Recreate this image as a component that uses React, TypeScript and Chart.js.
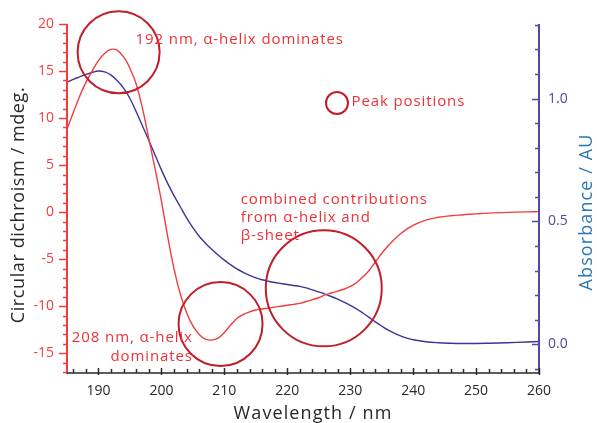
import React, { useEffect, useRef } from "react";
import { Chart, registerables } from "chart.js";

Chart.register(...registerables);

// ---- data ----
const wavelengths = [
  185, 186, 187, 188, 189, 190, 191, 192, 193, 194, 195, 196, 197, 198, 199, 200,
  201, 202, 203, 204, 205, 206, 207, 208, 209, 210, 211, 212, 213, 214, 215, 216,
  217, 218, 219, 220, 221, 222, 223, 224, 225, 226, 227, 228, 229, 230, 231, 232,
  233, 234, 235, 236, 237, 238, 239, 240, 242, 244, 246, 248, 250, 252, 255, 258, 260,
];
const cdValues = [
  8.8, 10.6, 12.3, 13.8, 15.0, 16.1, 16.9, 17.3, 17.2, 16.5, 15.3, 13.6, 11.0, 7.8, 4.6, 1.2,
  -2.6, -6.0, -8.7, -10.7, -12.1, -13.0, -13.5, -13.6, -13.4, -12.8, -12.0, -11.3, -10.9, -10.6, -10.4, -10.3,
  -10.2, -10.1, -10.0, -9.9, -9.8, -9.7, -9.5, -9.3, -9.1, -8.8, -8.6, -8.4, -8.2, -7.9, -7.5, -6.9,
  -6.2, -5.3, -4.4, -3.6, -2.9, -2.3, -1.8, -1.4, -0.85, -0.55, -0.38, -0.28, -0.18, -0.1, -0.03, 0.03, 0.05,
];
const absValues = [
  1.067, 1.078, 1.088, 1.098, 1.106, 1.112, 1.108, 1.095, 1.072, 1.042, 1.0, 0.946, 0.888, 0.83, 0.77, 0.71,
  0.655, 0.605, 0.56, 0.515, 0.475, 0.44, 0.412, 0.387, 0.364, 0.343, 0.324, 0.307, 0.293, 0.281, 0.271, 0.263,
  0.257, 0.252, 0.248, 0.244, 0.24, 0.236, 0.23, 0.222, 0.214, 0.205, 0.195, 0.184, 0.172, 0.159, 0.145, 0.128,
  0.11, 0.092, 0.075, 0.059, 0.046, 0.035, 0.026, 0.019, 0.011, 0.007, 0.005, 0.004, 0.004, 0.005, 0.007, 0.01, 0.012,
];

const xMajorTicks = [190, 200, 210, 220, 230, 240, 250, 260];
const cdMajorTicks = [-15, -10, -5, 0, 5, 10, 15, 20];
const absMajorTicks = [0.0, 0.5, 1.0];

// annotations (data coordinates: wavelength, CD)
const circleWavelengths = [193.2, 209.4, 225.8, 227.9];
const circleCd = [17.0, -11.9, -8.1, 11.6];
const noteTexts = [
  "192 nm, \u03b1-helix dominates",
  "Peak positions",
  "combined contributions",
  "from \u03b1-helix and",
  "\u03b2-sheet",
  "208 nm, \u03b1-helix",
  "dominates",
];
const noteWavelengths = [195.9, 230.2, 212.6, 212.6, 212.6, 205.0, 205.0];
const noteCd = [18.33, 11.73, 1.3, -0.6, -2.5, -13.35, -15.4];

// ---- styles ----
const RED = "rgb(240,62,62)";
const TEXT_RED = "rgb(236,50,56)";
const CIRCLE_RED = "rgb(192,30,40)";
const BLUE = "rgb(62,52,150)";
const AXIS_BLUE = "rgb(80,72,165)";
const TITLE_BLUE = "rgb(40,120,185)";
const DARK = "rgb(40,40,40)";
const FONT = "'Open Sans', sans-serif";
const circleRadii = [41, 42, 58, 11];
const noteAlign: CanvasTextAlign[] = ["left", "left", "left", "left", "left", "right", "right"];

const overlay = {
  id: "overlay",
  afterDraw(chart: any) {
    const ctx = chart.ctx as any;
    const { left, right, top, bottom } = chart.chartArea;
    const x = chart.scales.x;
    const y = chart.scales.y;
    const y1 = chart.scales.y1;
    ctx.save();

    // left axis
    ctx.strokeStyle = RED;
    ctx.lineWidth = 2;
    ctx.beginPath();
    ctx.moveTo(left, top);
    ctx.lineTo(left, bottom + 1);
    ctx.stroke();
    ctx.lineWidth = 1.5;
    for (let v = -17; v <= 20; v++) {
      const py = Math.round(y.getPixelForValue(v)) + 0.5;
      const len = v % 5 === 0 ? 8 : 4;
      ctx.beginPath();
      ctx.moveTo(left, py);
      ctx.lineTo(left - len, py);
      ctx.stroke();
    }

    // right axis
    ctx.strokeStyle = AXIS_BLUE;
    ctx.lineWidth = 2;
    ctx.beginPath();
    ctx.moveTo(right, top);
    ctx.lineTo(right, bottom + 1);
    ctx.stroke();
    ctx.lineWidth = 1.5;
    for (let i = -1; i <= 13; i++) {
      const v = i / 10;
      const py = Math.round(y1.getPixelForValue(v)) + 0.5;
      const len = i % 5 === 0 ? 7 : 4;
      ctx.beginPath();
      ctx.moveTo(right, py);
      ctx.lineTo(right - len, py);
      ctx.stroke();
    }

    // bottom axis
    ctx.strokeStyle = DARK;
    ctx.lineWidth = 1.5;
    ctx.beginPath();
    ctx.moveTo(left, bottom);
    ctx.lineTo(right, bottom);
    ctx.stroke();
    for (let v = 186; v <= 260; v += 2) {
      const px = Math.round(x.getPixelForValue(v)) + 0.5;
      const major = v % 10 === 0;
      ctx.beginPath();
      ctx.moveTo(px, bottom + (major ? 2 : 0));
      ctx.lineTo(px, bottom - (major ? 5 : 4));
      ctx.stroke();
    }

    // circles
    ctx.strokeStyle = CIRCLE_RED;
    ctx.lineWidth = 2;
    circleWavelengths.forEach((w, i) => {
      const cx = x.getPixelForValue(w);
      const cy = y.getPixelForValue(circleCd[i]);
      ctx.beginPath();
      ctx.arc(cx, cy, circleRadii[i], 0, Math.PI * 2);
      ctx.stroke();
    });

    // notes
    ctx.fillStyle = TEXT_RED;
    ctx.font = `15px ${FONT}`;
    ctx.letterSpacing = "0.9px";
    ctx.textBaseline = "middle";
    noteTexts.forEach((t, i) => {
      ctx.textAlign = noteAlign[i];
      ctx.fillText(t, x.getPixelForValue(noteWavelengths[i]), y.getPixelForValue(noteCd[i]));
    });

    // axis titles
    ctx.font = `18px ${FONT}`;
    ctx.textAlign = "center";
    ctx.textBaseline = "middle";
    ctx.fillStyle = DARK;
    ctx.letterSpacing = "1.1px";
    ctx.fillText("Wavelength / nm", 313, 414);
    ctx.save();
    ctx.letterSpacing = "0.6px";
    ctx.translate(19, 205);
    ctx.rotate(-Math.PI / 2);
    ctx.fillText("Circular dichroism / mdeg.", 0, 0);
    ctx.restore();
    ctx.save();
    ctx.letterSpacing = "1.1px";
    ctx.fillStyle = TITLE_BLUE;
    ctx.translate(587, 212);
    ctx.rotate(-Math.PI / 2);
    ctx.fillText("Absorbance / AU", 0, 0);
    ctx.restore();

    ctx.restore();
  },
};

export default function App() {
  const ref = useRef<HTMLCanvasElement>(null);
  useEffect(() => {
    document.body.style.margin = "0";
    const canvas = ref.current!;
    const chart = new Chart(canvas, {
      type: "line",
      data: {
        datasets: [
          {
            label: "CD",
            data: wavelengths.map((w, i) => ({ x: w, y: cdValues[i] })),
            borderColor: RED,
            borderWidth: 1.4,
            pointRadius: 0,
            tension: 0.4,
            yAxisID: "y",
          },
          {
            label: "Absorbance",
            data: wavelengths.map((w, i) => ({ x: w, y: absValues[i] })),
            borderColor: BLUE,
            borderWidth: 1.4,
            pointRadius: 0,
            tension: 0.4,
            yAxisID: "y1",
          },
        ],
      },
      options: {
        responsive: false,
        animation: false,
        layout: { padding: { top: 24, left: 0, right: 0, bottom: 0 } },
        plugins: { legend: { display: false }, tooltip: { enabled: false } },
        scales: {
          x: {
            type: "linear",
            min: 185,
            max: 260,
            grid: { display: false, drawTicks: false },
            border: { display: false },
            afterBuildTicks: (s: any) => {
              s.ticks = xMajorTicks.map((v) => ({ value: v }));
            },
            afterFit: (s: any) => {
              s.height = 50;
            },
            ticks: {
              autoSkip: false,
              maxRotation: 0,
              padding: 10,
              color: DARK,
              font: { family: FONT, size: 14 },
            },
          },
          y: {
            position: "left",
            min: -17.1,
            max: 20,
            grid: { display: false, drawTicks: false },
            border: { display: false },
            afterBuildTicks: (s: any) => {
              s.ticks = cdMajorTicks.map((v) => ({ value: v }));
            },
            afterFit: (s: any) => {
              s.width = 67;
            },
            ticks: {
              padding: 13,
              color: RED,
              font: { family: FONT, size: 14 },
            },
          },
          y1: {
            position: "right",
            min: -0.116,
            max: 1.303,
            grid: { display: false, drawTicks: false },
            border: { display: false },
            afterBuildTicks: (s: any) => {
              s.ticks = absMajorTicks.map((v) => ({ value: v }));
            },
            afterFit: (s: any) => {
              s.width = 58;
            },
            ticks: {
              padding: 9,
              color: AXIS_BLUE,
              font: { family: FONT, size: 14 },
              callback: (v: any) => Number(v).toFixed(1),
            },
          },
        },
      },
      plugins: [overlay],
    });
    return () => chart.destroy();
  }, []);
  return <canvas ref={ref} width={597} height={423} style={{ display: "block" }} />;
}
